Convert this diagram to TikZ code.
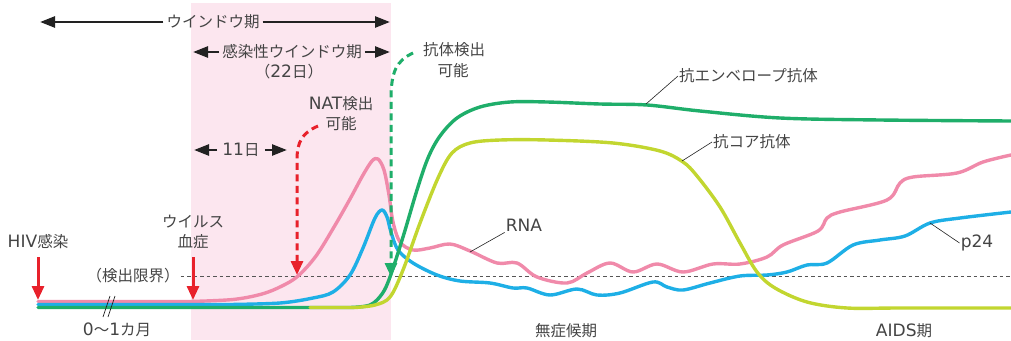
\documentclass[tikz,border=0pt]{standalone}
\usepackage{fontspec}
\setmainfont{Noto Sans CJK JP}
\newfontfamily\lat[Scale=1.1]{DejaVu Sans}
\usetikzlibrary{arrows.meta}
\definecolor{cPink}{HTML}{F08AAA}
\definecolor{cBlue}{HTML}{1EAFE6}
\definecolor{cGreen}{HTML}{1FAE6A}
\definecolor{cLime}{HTML}{C2D630}
\definecolor{cRed}{HTML}{E8212B}
\definecolor{cBg}{HTML}{FCE6EF}
\definecolor{cDark}{HTML}{222222}
\definecolor{cText}{HTML}{444444}
\definecolor{cGrid}{HTML}{555555}
\begin{document}
\begin{tikzpicture}[x=1pt,y=-1pt,
  font=\fontsize{15.5}{18}\selectfont,
  lbl/.style={text=cText, inner sep=1pt},
  curve/.style={line width=3.4pt, line cap=round, line join=round},
  redarrow/.style={cRed, line width=3pt, -{Triangle[length=14pt,width=12pt]}},
  dblarr/.style={cDark, line width=2.6pt, -{Triangle[length=15pt,width=11pt]}},
  dasharr/.style={line width=3pt, dash pattern=on 7pt off 4.5pt, -{Triangle[length=14pt,width=12pt]}},
  pointer/.style={line width=0.6pt, cDark},
  limitline/.style={cGrid, line width=0.9pt, dash pattern=on 3.5pt off 3pt}]
\useasboundingbox (0,0) rectangle (1011,340);

% pink background (infectious window period)
\fill[cBg] (191,3) rectangle (390.5,340);

% detection limit line
\node[lbl] (limit) at (133,276) {（検出限界）};
\coordinate (limitEnd) at (1011,276);
\draw[limitline] (limit.east) -- (limitEnd);

% curves
\draw[curve, cPink] (38,301.5) -- (190,301.5) plot[smooth, tension=0.55] coordinates {
 (190,301.5) (233,299.5) (262,294) (282,286) (298,276) (316,256) (334,227) (350,199) (363,175) (372,161) (378,159)
 (384,170) (389,195) (393,222) (400,242) (413,250) (430,248) (450,244) (470,251) (497,263) (517,263)
 (537,277) (567,283) (587,273) (610,263) (633,272) (657,264) (683,272) (713,264) (740,264)
 (767,257) (783,245) (818,231) (827,218) (840,212) (887,200) (900,183) (913,177) (957,173)
 (983,162) (1011,155)};
\draw[curve, cBlue] (38,304.5) -- (230,304.5) plot[smooth, tension=0.55] coordinates {
 (230,304.5) (280,303) (313,298) (333,292) (350,275) (363,248) (375,218) (382,210) (387,217)
 (391,232) (398,250) (413,263) (437,275) (460,281) (490,283) (513,288) (527,288) (550,295)
 (577,289) (597,295) (620,293) (653,282) (667,287) (683,290) (710,283) (740,276) (767,275)
 (787,272) (807,265) (827,263) (853,245) (880,240) (905,236) (930,223) (960,218) (1011,212)};
\draw[curve, cGreen] (38,307.5) -- (350,307.5) plot[smooth, tension=0.55] coordinates {
 (350,307.5) (370,305) (382,294) (390,277) (403,237) (417,190) (428,158) (440,136) (457,118)
 (480,107) (510,102) (547,102) (600,104) (647,105) (700,111) (780,118) (880,120) (1011,121)};
\draw[curve, cLime] (310,307.5) -- (355,307.5) plot[smooth, tension=0.55] coordinates {
 (355,307.5) (375,305) (390,297) (403,270) (420,223) (438,178) (452,153) (470,143) (500,140)
 (547,140) (613,143) (660,151) (683,162) (697,176) (720,207) (740,243) (757,272) (775,288)
 (807,302) (847,308) (900,308) (1011,308)};

% break marks
\coordinate (br1a) at (103,317); \coordinate (br1b) at (110,296);
\coordinate (br2a) at (108,317); \coordinate (br2b) at (115,296);
\draw[cDark, line width=0.7pt] (br1a) -- (br1b);
\draw[cDark, line width=0.7pt] (br2a) -- (br2b);
\node[lbl] (months) at (117,330) {{\lat 0}〜{\lat 1}カ月};

% HIV infection / viremia
\node[lbl] (hiv) at (38,242) {{\lat HIV}感染};
\coordinate (hivTip) at (38,300);
\draw[redarrow] (38,257) -- (hivTip);
\node[lbl] (vir1) at (193,222) {ウイルス};
\node[lbl] (vir2) at (193,242) {血症};
\coordinate (virTip) at (193,300);
\draw[redarrow] (193,257) -- (virTip);

% window period arrows
\node[lbl, inner sep=3pt] (wp) at (213,22) {ウインドウ期};
\coordinate (wpL) at (40,22); \coordinate (wpR) at (390,22);
\draw[dblarr] (wp.west) -- (wpL);
\draw[dblarr] (wp.east) -- (wpR);

\node[lbl, inner sep=3pt] (iwp) at (292,52) {感染性ウインドウ期};
\coordinate (iwpL) at (193,52); \coordinate (iwpR) at (390,52);
\draw[dblarr] (iwp.west) -- (iwpL);
\draw[dblarr] (iwp.east) -- (iwpR);
\node[lbl] (days22) at (289,72) {（{\lat 22}日）};

\node[lbl, inner sep=5pt] (d11) at (241,150) {{\lat 11}日};
\coordinate (d11L) at (194,150); \coordinate (d11R) at (287,150);
\draw[dblarr] (d11.west) -- (d11L);
\draw[dblarr] (d11.east) -- (d11R);

% NAT detection
\node[lbl] (nat1) at (341,104) {{\lat NAT}検出};
\node[lbl] (nat2) at (341,124) {可能};
\coordinate (natS) at (318,126); \coordinate (natM) at (297,160); \coordinate (natTip) at (297,275);
\draw[dasharr, cRed] (natS) .. controls (302,133) and (297,142) .. (natM) -- (natTip);

% antibody detection
\node[lbl] (ab1) at (454,50) {抗体検出};
\node[lbl] (ab2) at (453,71) {可能};
\coordinate (abS) at (413,53); \coordinate (abM) at (391,100); \coordinate (abTip) at (391,277);
\draw[dasharr, cGreen] (abS) .. controls (396,61) and (391,72) .. (abM) -- (abTip);

% curve labels
\node[lbl, anchor=west] (env) at (678,76) {抗エンベロープ抗体};
\coordinate (envP) at (646,104);
\draw[pointer] (envP) -- (env.west);
\node[lbl, anchor=west] (core) at (712,142) {抗コア抗体};
\coordinate (coreP) at (682,161);
\draw[pointer] (coreP) -- (core.west);
\node[lbl] (rna) at (524,225) {\lat RNA};
\coordinate (rnaP) at (470,252);
\draw[pointer] (rnaP) -- (rna.south west);
\node[lbl] (p24) at (977,243) {\lat p24};
\coordinate (p24P) at (930,223);
\draw[pointer] (p24P) -- (p24.west);

% phases
\node[lbl] (asym) at (566,331) {無症候期};
\node[lbl] (aids) at (904,331) {{\lat AIDS}期};
\end{tikzpicture}
\end{document}
